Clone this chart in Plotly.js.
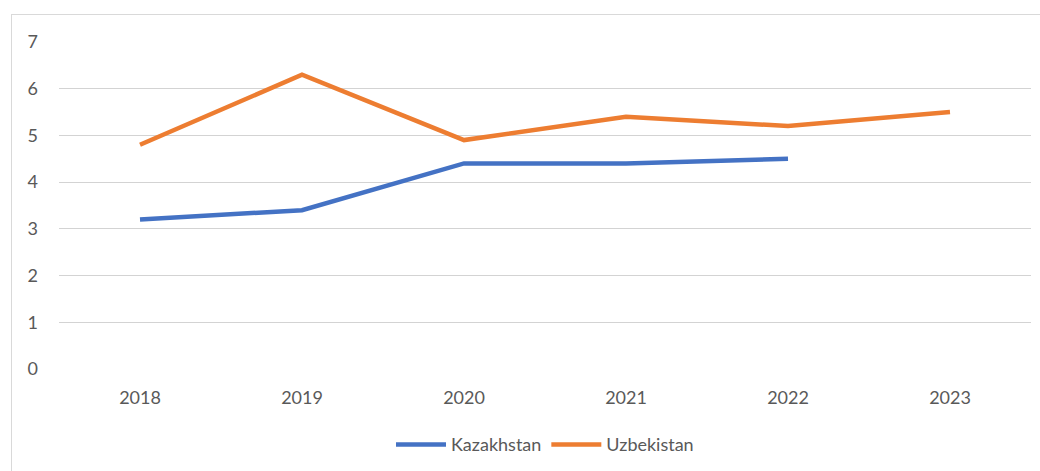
<!DOCTYPE html>
<html>
<head>
<meta charset="utf-8">
<script src="https://cdn.plot.ly/plotly-3.0.1.min.js"></script>
<style>
  body { margin: 0; background: #fff; overflow: hidden; }
  #plot { position: absolute; left: 11px; top: 14px; width: 1040px; height: 470px;
          border: 1px solid #d9d9d9; box-sizing: border-box; }
</style>
</head>
<body>
<div id="plot"></div>
<script>
var years = ["2018", "2019", "2020", "2021", "2022", "2023"];
var kazakhstan = [3.2, 3.4, 4.4, 4.4, 4.5, null];
var uzbekistan = [4.8, 6.3, 4.9, 5.4, 5.2, 5.5];

var trace1 = {
  x: years,
  y: kazakhstan,
  mode: "lines",
  type: "scatter",
  name: "Kazakhstan",
  line: {color: "#4472C4", width: 4.5}
};

var trace2 = {
  x: years,
  y: uzbekistan,
  mode: "lines",
  type: "scatter",
  name: "Uzbekistan",
  line: {color: "#ED7D31", width: 4.5}
};

var layout = {
  width: 1040,
  height: 470,
  margin: {l: 47, r: 21, t: 27, b: 116},
  paper_bgcolor: "#fff",
  plot_bgcolor: "#fff",
  font: {family: "Lato, 'Open Sans', sans-serif", size: 18, color: "#595959"},
  xaxis: {
    type: "category",
    range: [-0.5, 5.5],
    showgrid: false,
    showline: false,
    zeroline: false,
    ticks: "",
    ticklabelstandoff: 16
  },
  yaxis: {
    range: [0, 7],
    dtick: 1,
    showgrid: true,
    gridcolor: "#d3d3d3",
    gridwidth: 1,
    zeroline: false,
    showline: false,
    ticks: "",
    ticklabelstandoff: 20
  },
  showlegend: true,
  legend: {
    orientation: "h",
    x: 0.5,
    xanchor: "center",
    y: -0.175,
    yanchor: "top",
    font: {size: 18, color: "#595959"},
    itemwidth: 50
  }
};

Plotly.newPlot("plot", [trace1, trace2], layout, {displayModeBar: false, staticPlot: true});
</script>
</body>
</html>
